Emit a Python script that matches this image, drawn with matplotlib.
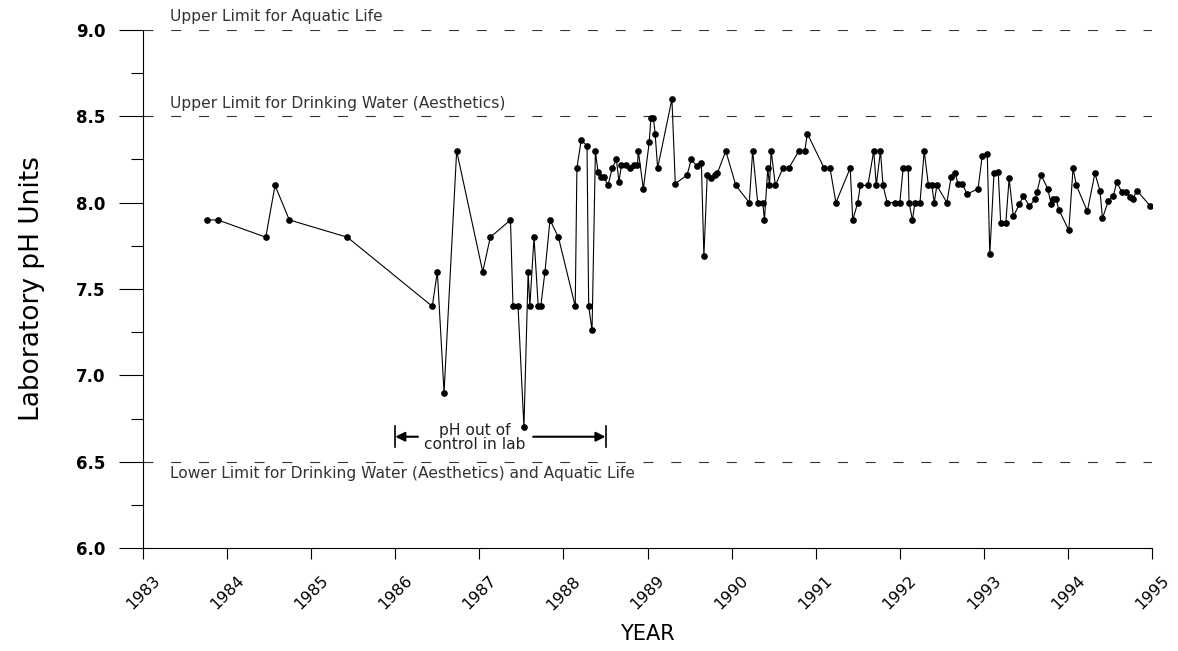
import matplotlib
matplotlib.use("Agg")
import matplotlib.pyplot as plt
from matplotlib.ticker import MultipleLocator

# Sampling dates (decimal years) and laboratory pH readings
years = [1983.76, 1983.89, 1984.46, 1984.57, 1984.74, 1985.43,
         1986.44, 1986.50, 1986.58, 1986.73, 1987.04, 1987.13, 1987.37,
         1987.40, 1987.46, 1987.53, 1987.58, 1987.60, 1987.65, 1987.70,
         1987.73, 1987.78, 1987.84, 1987.94, 1988.14, 1988.16, 1988.21,
         1988.28, 1988.30, 1988.34, 1988.38, 1988.41, 1988.45, 1988.48,
         1988.53, 1988.58, 1988.63, 1988.66, 1988.69, 1988.74, 1988.79,
         1988.84, 1988.88, 1988.89, 1988.95, 1989.02, 1989.04, 1989.07,
         1989.09, 1989.12, 1989.29, 1989.33, 1989.47, 1989.52, 1989.59,
         1989.64, 1989.67, 1989.71, 1989.76, 1989.80, 1989.83, 1989.93,
         1990.05, 1990.21, 1990.25, 1990.31, 1990.37, 1990.39, 1990.43,
         1990.45, 1990.47, 1990.52, 1990.61, 1990.68, 1990.80, 1990.87,
         1990.90, 1991.10, 1991.17, 1991.24, 1991.41, 1991.44, 1991.50,
         1991.53, 1991.62, 1991.69, 1991.72, 1991.77, 1991.80, 1991.85,
         1991.94, 1992.00, 1992.04, 1992.10, 1992.11, 1992.15, 1992.18,
         1992.24, 1992.29, 1992.34, 1992.38, 1992.41, 1992.44, 1992.56,
         1992.61, 1992.66, 1992.69, 1992.74, 1992.80, 1992.93, 1992.98,
         1993.04, 1993.07, 1993.12, 1993.17, 1993.20, 1993.26, 1993.30,
         1993.35, 1993.42, 1993.47, 1993.54, 1993.61, 1993.63, 1993.68,
         1993.76, 1993.80, 1993.82, 1993.86, 1993.89, 1994.01, 1994.06,
         1994.10, 1994.23, 1994.32, 1994.38, 1994.41, 1994.48, 1994.54,
         1994.58, 1994.64, 1994.69, 1994.74, 1994.77, 1994.82, 1994.98]
ph = [7.9, 7.9, 7.8, 8.1, 7.9, 7.8,
      7.4, 7.6, 6.9, 8.3, 7.6, 7.8, 7.9,
      7.4, 7.4, 6.7, 7.6, 7.4, 7.8, 7.4,
      7.4, 7.6, 7.9, 7.8, 7.4, 8.2, 8.36,
      8.33, 7.4, 7.26, 8.3, 8.18, 8.15, 8.15,
      8.1, 8.2, 8.25, 8.12, 8.22, 8.22, 8.2,
      8.22, 8.22, 8.3, 8.08, 8.35, 8.49, 8.49,
      8.4, 8.2, 8.6, 8.11, 8.16, 8.25, 8.21,
      8.23, 7.69, 8.16, 8.14, 8.16, 8.17, 8.3,
      8.1, 8.0, 8.3, 8.0, 8.0, 7.9, 8.2,
      8.1, 8.3, 8.1, 8.2, 8.2, 8.3, 8.3,
      8.4, 8.2, 8.2, 8.0, 8.2, 7.9, 8.0,
      8.1, 8.1, 8.3, 8.1, 8.3, 8.1, 8.0,
      8.0, 8.0, 8.2, 8.2, 8.0, 7.9, 8.0,
      8.0, 8.3, 8.1, 8.1, 8.0, 8.1, 8.0,
      8.15, 8.17, 8.11, 8.11, 8.05, 8.08, 8.27,
      8.28, 7.7, 8.17, 8.18, 7.88, 7.88, 8.14,
      7.92, 7.99, 8.04, 7.98, 8.02, 8.06, 8.16,
      8.08, 7.99, 8.02, 8.02, 7.96, 7.84, 8.2,
      8.1, 7.95, 8.17, 8.07, 7.91, 8.01, 8.04,
      8.12, 8.06, 8.06, 8.03, 8.02, 8.07, 7.98]

# Guideline levels and their captions
limits = [9.0, 8.5, 6.5]
limit_labels = ["Upper Limit for Aquatic Life",
                "Upper Limit for Drinking Water (Aesthetics)",
                "Lower Limit for Drinking Water (Aesthetics) and Aquatic Life"]
limit_offsets = [9.5, 9.5, -8.5]

year_ticks = list(range(1983, 1996))
lab_period = [1986.0, 1988.5]

plt.rcParams['font.family'] = ['DejaVu Sans']
plt.rcParams['lines.scale_dashes'] = False

fig = plt.figure(figsize=(11.78, 6.51), dpi=100)
ax = fig.add_axes([0.1214, 0.158, 0.8566, 0.796])

ax.plot(years, ph, color='black', lw=0.8, marker='o', ms=3.8,
        mec='black', mfc='black', zorder=3)

for lvl, lab, off in zip(limits, limit_labels, limit_offsets):
    ax.axhline(lvl, color='#333333', lw=0.8, dashes=(7.2, 12.8), zorder=1)
    ax.annotate(lab, xy=(1983.32, lvl), xytext=(0, off),
                textcoords='offset points', ha='left', va='center',
                fontsize=11.2, color='#333333')

# pH out of control in lab: span with arrows both ways
y_arrow = 6.645
ax.annotate('', xy=(lab_period[0], y_arrow), xytext=(1986.27, y_arrow),
            arrowprops=dict(arrowstyle='-|>', color='black', lw=1.5,
                            mutation_scale=14, shrinkA=0, shrinkB=0))
ax.annotate('', xy=(lab_period[1], y_arrow), xytext=(1987.64, y_arrow),
            arrowprops=dict(arrowstyle='-|>', color='black', lw=1.5,
                            mutation_scale=14, shrinkA=0, shrinkB=0))
for xb in lab_period:
    ax.plot([xb, xb], [y_arrow - 0.06, y_arrow + 0.06], color='black', lw=1.2)
ax.text(1986.95, y_arrow - 0.005, 'pH out of\ncontrol in lab',
        ha='center', va='center', fontsize=11.2, linespacing=0.95,
        color='#222222')

ax.set_xlim(1983, 1995)
ax.set_ylim(6.0, 9.0)
ax.set_xticks(year_ticks)
ax.set_xticklabels([str(y) for y in year_ticks], rotation=45,
                   ha='center', fontsize=11.5)
ax.yaxis.set_major_locator(MultipleLocator(0.5))
ax.yaxis.set_minor_locator(MultipleLocator(0.25))
ax.set_yticklabels([f"{v:.1f}" for v in ax.get_yticks()],
                   fontsize=12, fontweight='bold')

ax.tick_params(axis='y', which='major', direction='out', length=17,
               width=0.8, pad=10)
ax.tick_params(axis='y', which='minor', direction='out', length=9, width=0.8)
ax.tick_params(axis='x', which='major', direction='out', length=8,
               width=0.8, pad=10)

for side in ['top', 'right']:
    ax.spines[side].set_visible(False)
for side in ['left', 'bottom']:
    ax.spines[side].set_linewidth(0.8)

ax.set_ylabel('Laboratory pH Units', fontsize=19, labelpad=22)
ax.set_xlabel('YEAR', fontsize=15, labelpad=8)

fig.savefig('out.png', dpi=100, facecolor='white')
